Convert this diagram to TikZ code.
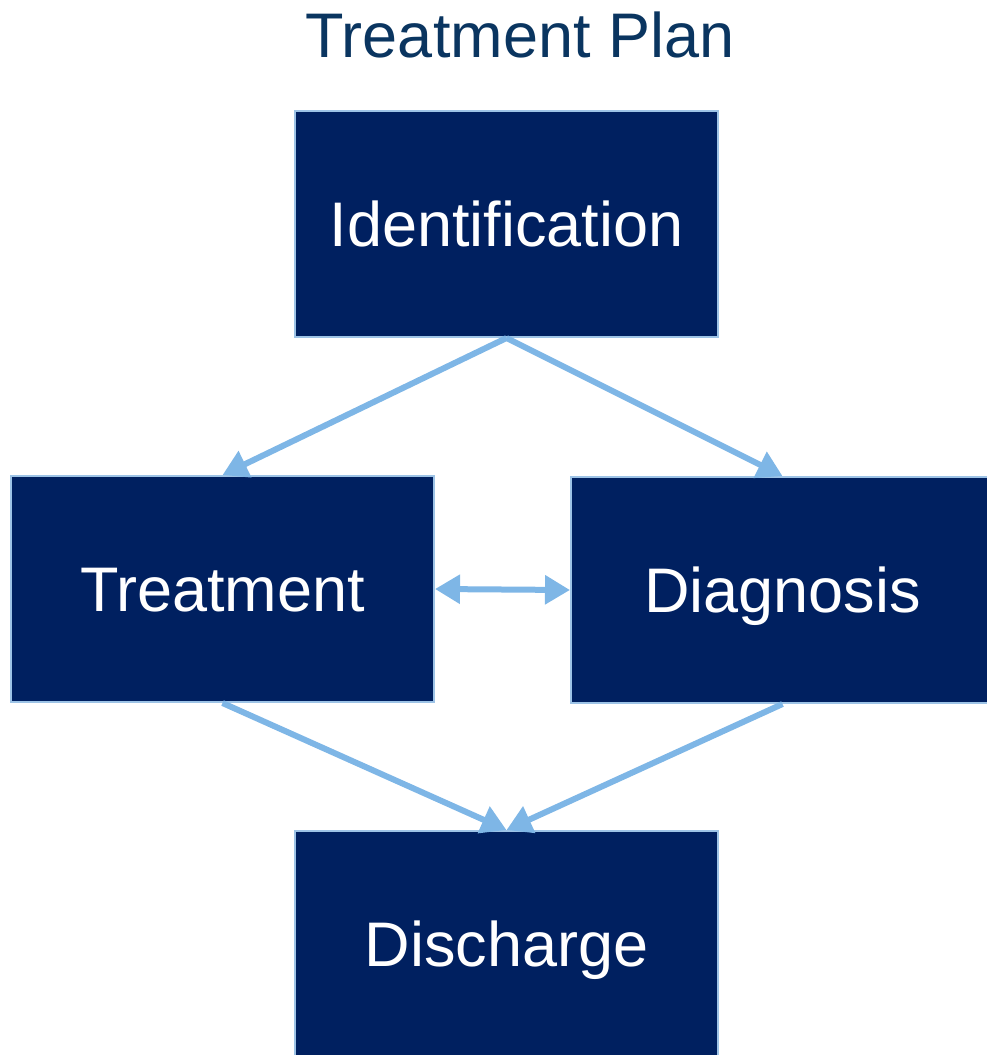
\documentclass[tikz,border=0pt]{standalone}
\usepackage{fontspec}
\setmainfont{Liberation Sans}
\usetikzlibrary{arrows.meta}
\definecolor{boxfill}{RGB}{0,32,96}
\definecolor{boxline}{RGB}{157,195,230}
\definecolor{arrowc}{RGB}{126,182,230}
\definecolor{titlec}{RGB}{10,53,96}
\begin{document}
\begin{tikzpicture}[x=1pt,y=-1pt,
  stagebox/.style={draw=boxline,line width=2pt,fill=boxfill,text=white,
    minimum width=423pt,minimum height=226pt,inner sep=0pt,
    text height=45pt,text depth=0pt,
    font=\fontsize{63}{70}\selectfont},
  flow/.style={draw=arrowc,line width=6pt,
    -{Triangle[length=25pt,width=28pt]}},
  bothflow/.style={draw=arrowc,line width=6pt,
    {Triangle[length=25pt,width=28pt]}-{Triangle[length=25pt,width=28pt]}}]
\useasboundingbox (0,0) rectangle (986,1055);
\node[text=titlec,font=\fontsize{63}{70}\selectfont] (title) at (520,35) {Treatment Plan};
\node[stagebox] (ident) at (506.5,224) {Identification};
\node[stagebox] (treat) at (222.5,589) {Treatment};
\node[stagebox] (diag) at (782.5,590) {Diagnosis};
\node[stagebox] (disch) at (506.5,944) {Discharge};
\draw[flow] (ident.south) -- (treat.north);
\draw[flow] (ident.south) -- (diag.north);
\draw[bothflow] (treat.east) -- (diag.west);
\draw[flow] (treat.south) -- (disch.north);
\draw[flow] (diag.south) -- (disch.north);
\end{tikzpicture}
\end{document}
